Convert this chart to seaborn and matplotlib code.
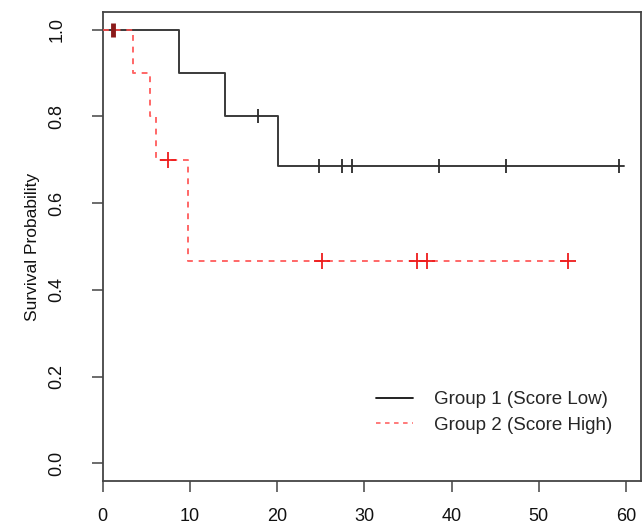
import matplotlib
matplotlib.use('Agg')
import matplotlib.pyplot as plt
from matplotlib.lines import Line2D
import seaborn as sns
import pandas as pd

# Kaplan-Meier step curves (time, survival)
g1_times = [0, 8.7, 14.0, 20.1, 59.8]
g1_surv = [1.0, 0.9, 0.8, 0.686, 0.686]
g1_cens_t = [17.8, 24.8, 27.4, 28.6, 38.6, 46.3, 59.2]
g1_cens_s = [0.8, 0.686, 0.686, 0.686, 0.686, 0.686, 0.686]

g2_times = [0, 3.5, 5.4, 6.1, 9.8, 53.4]
g2_surv = [1.0, 0.9, 0.8, 0.7, 0.467, 0.467]
g2_cens_t = [7.5, 25.2, 36.0, 37.2, 53.4]
g2_cens_s = [0.7, 0.467, 0.467, 0.467, 0.467]

# overlapping censor marks at the very start
early_t = [1.15]
early_s = [1.0]

labels = ['Group 1 (Score Low)', 'Group 2 (Score High)']
x_ticks = [0, 10, 20, 30, 40, 50, 60]
y_ticks = [0.0, 0.2, 0.4, 0.6, 0.8, 1.0]

sns.set_style('white')
plt.rcParams['font.family'] = ['Liberation Sans', 'DejaVu Sans']

fig = plt.figure(figsize=(6.42, 5.24), dpi=100)
ax = fig.add_axes([0.16, 0.0826, 0.838, 0.894])

g1 = pd.DataFrame({'time': g1_times, 'surv': g1_surv})
g2 = pd.DataFrame({'time': g2_times, 'surv': g2_surv})

sns.lineplot(data=g1, x='time', y='surv', ax=ax, color='#3a3a3a', lw=1.4,
             drawstyle='steps-post', zorder=3)
sns.lineplot(data=g2, x='time', y='surv', ax=ax, color='#ff4d4d', lw=1.4,
             drawstyle='steps-post', dashes=False, linestyle=(0, (3, 3)),
             alpha=0.85, zorder=3)

# censor marks
ax.plot(g1_cens_t, g1_cens_s, ls='none', marker='|', ms=10, mew=1.3,
        color='#2a2a2a', zorder=4)
ax.plot(g2_cens_t, g2_cens_s, ls='none', marker='+', ms=11, mew=1.3,
        color='#ee1c1c', zorder=4)
ax.plot(early_t, early_s, ls='none', marker='|', ms=10, mew=3.5,
        color='#8b1a1a', zorder=5)

ax.set_xlim(0, 61.7)
ax.set_ylim(-0.04, 1.04)
ax.set_xticks(x_ticks)
ax.set_yticks(y_ticks)
ax.set_xticklabels([str(t) for t in x_ticks], fontsize=13)
ax.set_yticklabels([f'{t:.1f}' for t in y_ticks], fontsize=13,
                   rotation=90, va='center')
ax.tick_params(axis='both', direction='out', length=8, width=1.1,
               color='#444444', labelcolor='#111111')
ax.tick_params(axis='x', bottom=True, pad=12)
ax.tick_params(axis='y', left=True, pad=19)
ax.set_xlabel('')
ax.set_ylabel('Survival Probability', fontsize=12.5, labelpad=6, color='#111111')

for s in ax.spines.values():
    s.set_visible(True)
    s.set_color('#444444')
    s.set_linewidth(1.3)

handles = [Line2D([], [], color='#111111', lw=1.3),
           Line2D([], [], color='#ff7070', lw=1.3, linestyle=(0, (2.5, 2.5)))]
ax.legend(handles, labels, loc='lower right', bbox_to_anchor=(0.978, 0.064),
          frameon=False, fontsize=13.5, handlelength=2.0, handletextpad=1.1,
          labelspacing=0.45)

fig.savefig('out.png', dpi=100)
